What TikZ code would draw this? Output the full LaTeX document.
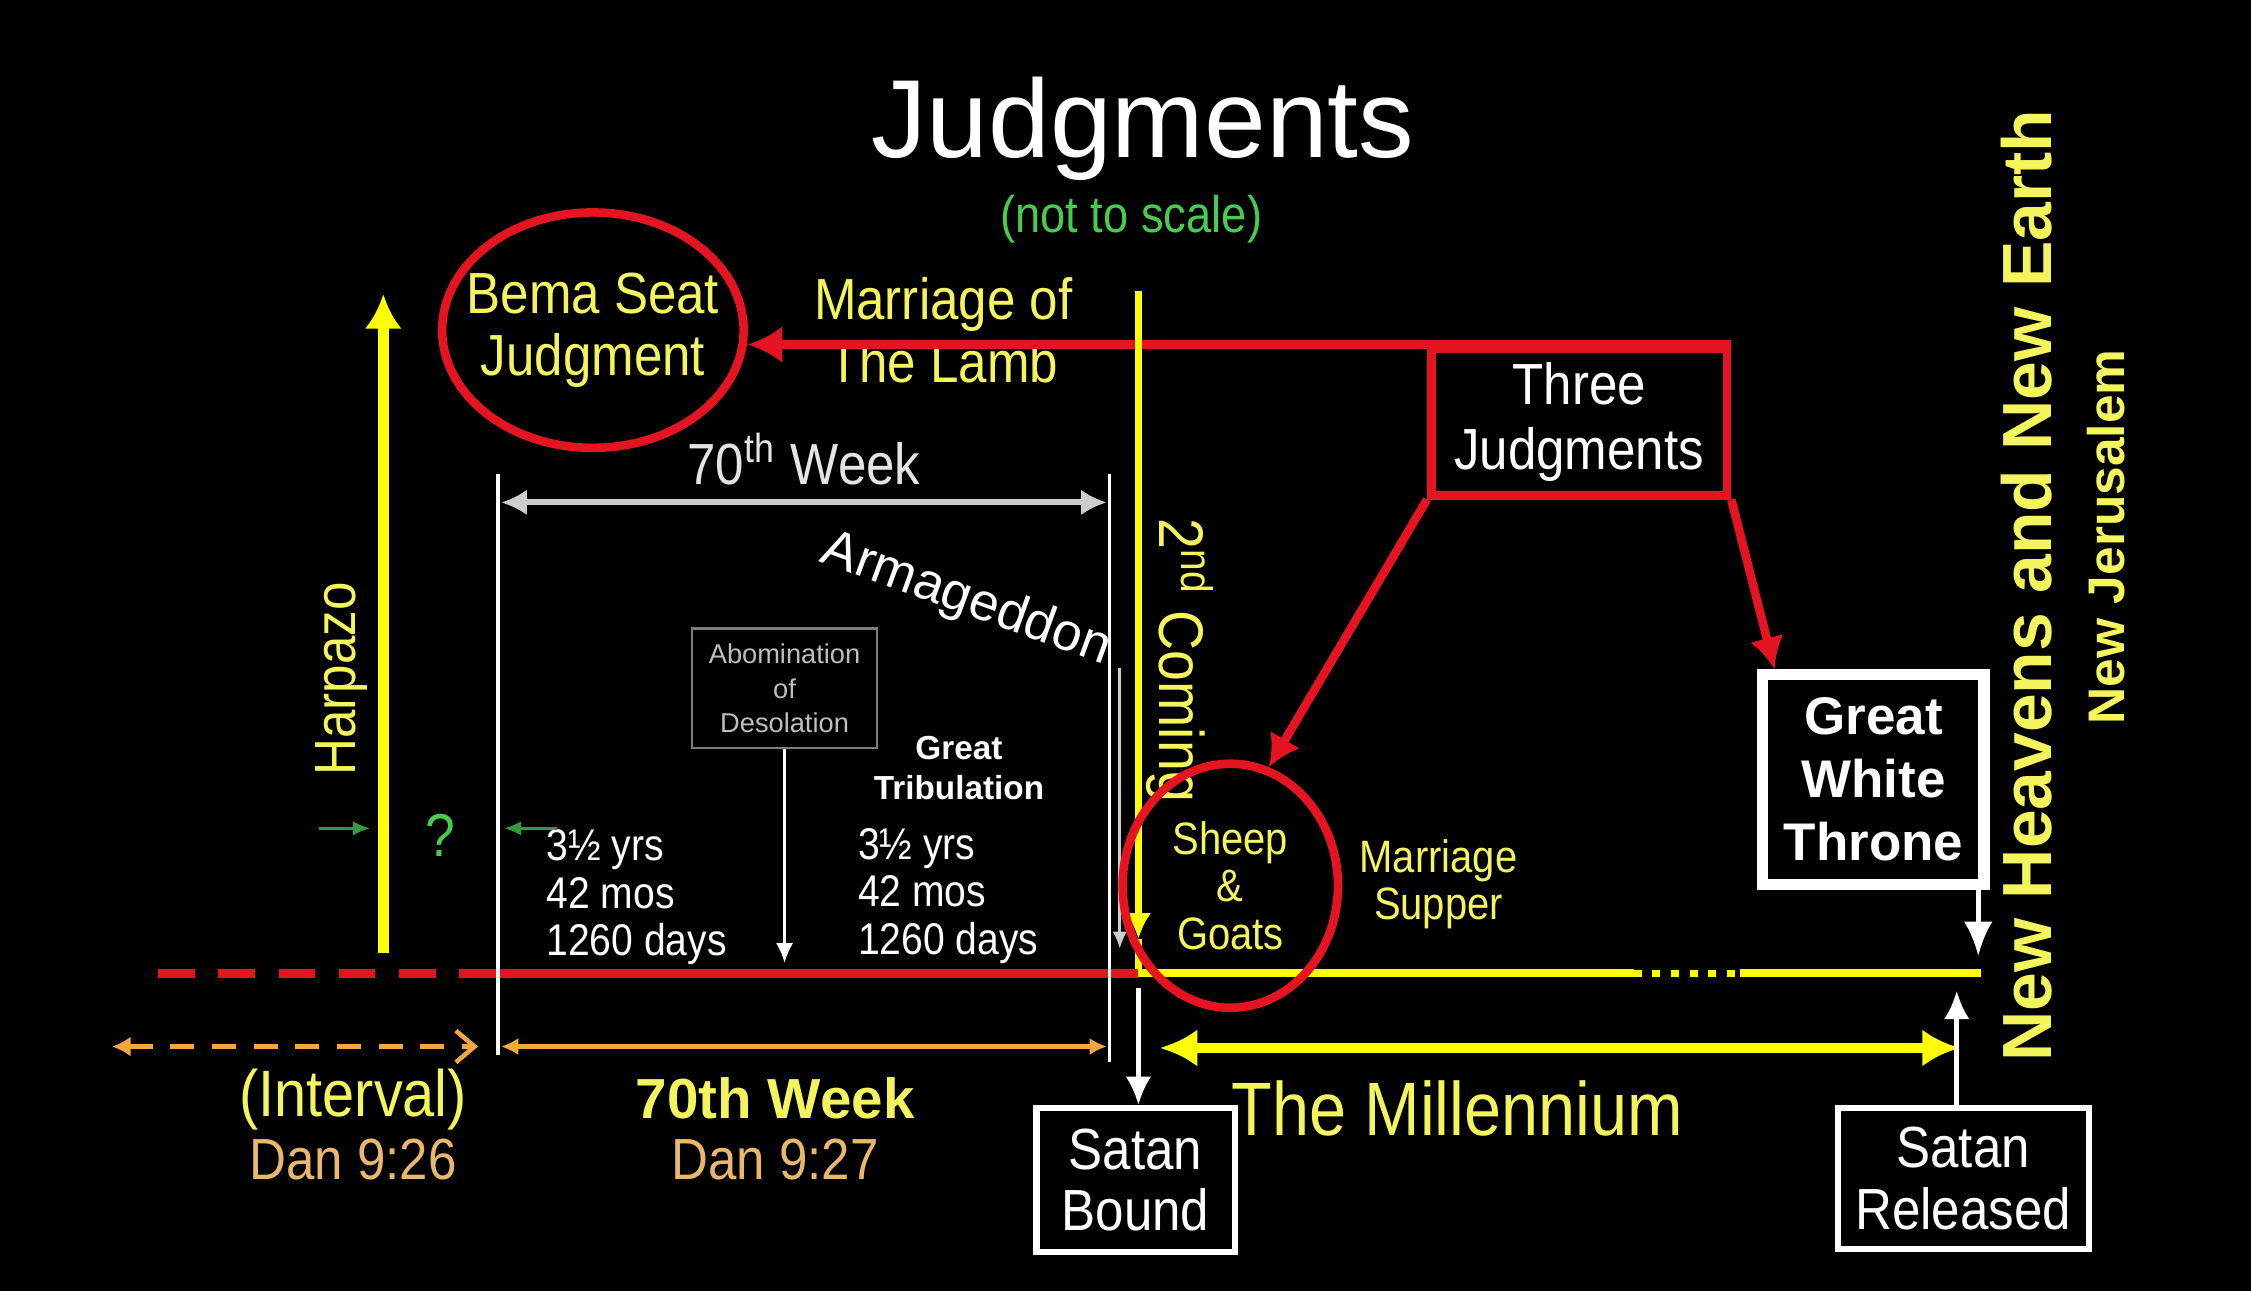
\documentclass[tikz,border=0pt]{standalone}
\usepackage{fontspec}
\setmainfont{Liberation Sans}
\newfontfamily\narrowfont[FakeStretch=0.88]{Liberation Sans}
\usepackage{tikz}
\usetikzlibrary{arrows.meta}
\usetikzlibrary{shapes.geometric}
\tikzset{>=Latex}
\definecolor{jred}{RGB}{228,20,32}
\definecolor{jyellow}{RGB}{255,255,0}
\definecolor{jytext}{RGB}{244,244,92}
\definecolor{jgreen}{RGB}{70,205,80}
\definecolor{jorange}{RGB}{242,168,62}
\definecolor{jtan}{RGB}{234,184,108}
\definecolor{jgray}{RGB}{205,205,205}
\definecolor{jlight}{RGB}{228,228,228}
\definecolor{jdim}{RGB}{125,125,125}
\definecolor{jdimtext}{RGB}{190,190,190}
\newcommand{\fsz}[2]{\fontsize{#1pt}{#2pt}\selectfont}
\tikzset{
  plaintxt/.style={inner sep=0pt, align=center},
  ytext/.style={plaintxt, text=jytext},
  wtext/.style={plaintxt, text=white},
  redring/.style={draw=jred, line width=1.7pt, ellipse, inner sep=0pt},
  whitebox/.style={draw=white, line width=1.2pt, text=white, inner sep=0pt, align=center, font=\narrowfont\fsz{11.5}{12.2}},
  redline/.style={draw=jred, line width=1.7pt},
  yline/.style={draw=jyellow, line width=1.6pt},
  thinwhite/.style={draw=white, line width=0.7pt},
}

\begin{document}
\begin{tikzpicture}
    \fill[black] (0,0) rectangle (15.68,8.99);
    \node[wtext, anchor=base, font=\fsz{22}{24}] (title) at (7.96,7.89) {Judgments};
    \node[plaintxt, text=jgreen, anchor=base, font=\narrowfont\fsz{10.2}{12}] (notscale) at (7.88,7.37) {(not to scale)};

    \node[ytext, font=\narrowfont\fsz{11.5}{12.4}] (lamb) at (6.57,6.69) {Marriage of\\The Lamb};
    \node[redring, minimum width=2.1cm, minimum height=1.64cm] (bema) at (4.13,6.69) {};
    \node[ytext, font=\narrowfont\fsz{11.5}{12.2}] (bematxt) at (bema) {Bema Seat\\Judgment};
    \node[draw=jred, line width=1.7pt, minimum width=2.06cm, minimum height=1.02cm, wtext, font=\narrowfont\fsz{11.5}{12.8}] (tj) at (11.0,6.05) {Three\\Judgments};
    \draw[redline, -{Latex[length=2.4mm,width=2.6mm]}] (tj.north east) -- (bema.east |- tj.north);

    % 2nd coming
    \coordinate (sc0) at (7.93,6.96);
    \coordinate (sc1) at (7.93,2.45);
    \coordinate (tc) at (7.93,2.21);
    \draw[yline, line width=1.4pt, -{Latex[length=1.8mm,width=1.8mm]}] (sc0) -- (sc1);
    \draw[yline, line width=1.4pt] (sc1) -- (tc);
    \node[ytext, rotate=-90, font=\narrowfont\fsz{12.5}{14}] (coming) at (8.22,4.39) {2\textsuperscript{nd} Coming};

    % timeline
    \coordinate (t0) at (1.10,2.21);
    \coordinate (tw) at (3.47,2.21);
    \coordinate (td) at (11.38,2.21);
    \coordinate (te) at (12.12,2.21);
    \coordinate (tf) at (13.80,2.21);
    \draw[redline, dash pattern=on 2.55mm off 1.65mm] (t0) -- (tw);
    \draw[redline] (tw) -- (tc);
    \draw[yline] (tc) -- (td);
    \draw[yline, line width=1.3pt, dash pattern=on 0.55mm off 0.75mm] (td) -- (te);
    \draw[yline] (te) -- (tf);

    \coordinate (wl0) at (3.47,5.69);
    \coordinate (wl1) at (3.47,1.64);
    \coordinate (wr0) at (7.73,5.69);
    \coordinate (wr1) at (7.73,1.59);
    \draw[thinwhite] (wl0) -- (wl1);
    \draw[thinwhite] (wr0) -- (wr1);
    \coordinate (wka) at (3.49,5.49);
    \coordinate (wkb) at (7.71,5.49);
    \draw[draw=jgray, line width=1.2pt, {Latex[length=1.8mm,width=1.8mm]}-{Latex[length=1.8mm,width=1.8mm]}] (wka) -- (wkb)
        node[midway, above=1mm, plaintxt, text=jlight, font=\narrowfont\fsz{11.5}{12}] (weeklbl) {70\textsuperscript{th} Week};

    \node[wtext, rotate=-20, font=\fsz{10.5}{12}] (armag) at (6.73,4.81) {Armageddon};
    \coordinate (arm0) at (7.80,4.34);
    \coordinate (arm1) at (7.80,2.38);
    \draw[draw=jgray, line width=0.6pt, -{Latex[length=1.2mm,width=1mm]}] (arm0) -- (arm1);

    \node[draw=jdim, line width=0.5pt, minimum width=1.29cm, minimum height=0.83cm, plaintxt, text=jdimtext, font=\fsz{5.4}{6.8}] (abom) at (5.465,4.195) {Abomination\\of\\Desolation};
    \coordinate (abomend) at (5.465,2.28);
    \draw[thinwhite, -{Latex[length=1.4mm,width=1.2mm]}] (abom.south) -- (abomend);
    \node[wtext, font=\bfseries\fsz{6.6}{8}] (trib) at (6.68,3.64) {Great\\Tribulation};
    \node[wtext, anchor=west, align=left, font=\narrowfont\fsz{8.8}{9.4}] (half1) at (3.80,2.74) {3½ yrs\\42 mos\\1260 days};
    \node[wtext, anchor=west, align=left, font=\narrowfont\fsz{8.8}{9.4}] (half2) at (5.97,2.75) {3½ yrs\\42 mos\\1260 days};

    % harpazo
    \coordinate (hz0) at (2.67,2.35);
    \coordinate (hz1) at (2.67,6.94);
    \draw[yline, line width=2.2pt, -{Latex[length=2.4mm,width=2.6mm]}] (hz0) -- (hz1);
    \node[ytext, rotate=90, font=\narrowfont\fsz{11.5}{12}] (harpazo) at (2.38,4.26) {Harpazo};
    \coordinate (ga0) at (2.22,3.22);
    \coordinate (ga1) at (2.58,3.22);
    \coordinate (gb0) at (3.88,3.22);
    \coordinate (gb1) at (3.51,3.22);
    \draw[draw=jgreen!75!black, line width=0.6pt, -{Latex[length=1.2mm,width=1mm]}] (ga0) -- (ga1);
    \draw[draw=jgreen!75!black, line width=0.6pt, -{Latex[length=1.2mm,width=1mm]}] (gb0) -- (gb1);
    \node[plaintxt, text=jgreen, font=\narrowfont\fsz{12}{12}] (qmark) at (3.07,3.17) {?};

    \coordinate (oa) at (0.78,1.70);
    \coordinate (ob) at (3.33,1.70);
    \coordinate (oc) at (3.49,1.70);
    \coordinate (od) at (7.71,1.70);
    \draw[draw=jorange, line width=0.9pt, dash pattern=on 1.67mm off 1.23mm, {Latex[length=1.3mm,width=1.4mm]}-{Straight Barb[length=1.3mm,width=2.2mm]}] (oa) -- (ob);
    \draw[draw=jorange, line width=0.9pt, {Latex[length=1.2mm,width=1.2mm]}-{Latex[length=1.2mm,width=1.2mm]}] (oc) -- (od);
    \node[ytext, font=\narrowfont\fsz{13}{14}] (interval) at (2.46,1.33) {(Interval)};
    \node[plaintxt, text=jtan, font=\narrowfont\fsz{11.5}{13}] (dan26) at (2.46,0.91) {Dan 9:26};
    \node[ytext, font=\bfseries\fsz{11.2}{13}] (week) at (5.40,1.34) {70th Week};
    \node[plaintxt, text=jtan, font=\narrowfont\fsz{11.5}{13}] (dan27) at (5.40,0.91) {Dan 9:27};

    % millennium
    \node[whitebox, minimum width=1.38cm, minimum height=1.0cm] (bound) at (7.91,0.77) {Satan\\Bound};
    \draw[thinwhite, line width=1pt, -{Latex[length=2mm,width=1.8mm]}] ([yshift=-1mm]tc) -- (tc |- bound.north);
    \coordinate (ma) at (8.08,1.69);
    \coordinate (mb) at (13.65,1.69);
    \draw[yline, line width=2pt, {Latex[length=2.6mm,width=2.6mm]}-{Latex[length=2.6mm,width=2.6mm]}] (ma) -- (mb);
    \node[ytext, font=\narrowfont\fsz{15}{16}] (millennium) at (10.15,1.27) {The Millennium};
    \node[ytext, font=\narrowfont\fsz{9}{9.4}] (supper) at (10.02,2.83) {Marriage\\Supper};

    \node[draw=white, line width=2.2pt, minimum width=1.54cm, minimum height=1.46cm, wtext, font=\bfseries\fsz{10.5}{12.5}] (gwt) at (13.05,3.56) {Great\\White\\Throne};
    \coordinate (gwtend) at (13.78,2.33);
    \draw[thinwhite, line width=1pt, -{Latex[length=2.4mm,width=2mm]}] (gwt.south east -| gwtend) -- (gwtend);
    \node[whitebox, minimum width=1.75cm, minimum height=0.98cm] (released) at (13.675,0.78) {Satan\\Released};
    \coordinate (relend) at (13.63,2.09);
    \draw[thinwhite, line width=1pt, -{Latex[length=2mm,width=1.8mm]}] (released.north -| relend) -- (relend);

    \node[ytext, rotate=90, font=\bfseries\fsz{13.8}{15}] (newearth) at (14.12,4.91) {New Heavens and New Earth};
    \node[ytext, rotate=90, font=\bfseries\fsz{10.2}{12}] (jerusalem) at (14.67,5.25) {New Jerusalem};

    \node[redring, minimum width=1.5cm, minimum height=1.7cm] (sg) at (8.57,2.82) {};
    \node[ytext, font=\narrowfont\fsz{9}{9.5}] (sgtxt) at (sg) {Sheep\\\&\\Goats};
    \draw[redline, -{Latex[length=2.2mm,width=2.4mm]}] (tj.south west) -- (sg.72);
    \draw[redline, -{Latex[length=2.2mm,width=2.4mm]}] (tj.south east) -- ([xshift=1.2mm]gwt.north west);
\end{tikzpicture}
\end{document}
